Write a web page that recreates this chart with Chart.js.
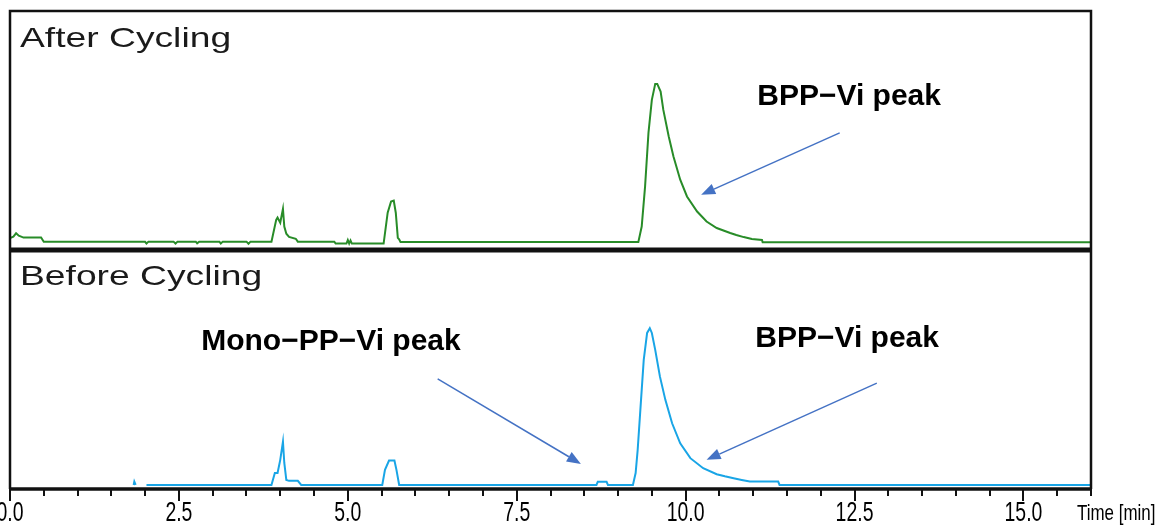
<!DOCTYPE html>
<html>
<head>
<meta charset="utf-8">
<title>HPLC chromatograms before and after cycling</title>
<script src="https://cdn.jsdelivr.net/npm/chart.js@4.4.1/dist/chart.umd.min.js"></script>
<style>
  html, body { margin: 0; padding: 0; background: #fff; }
  #wrap { position: relative; width: 1159px; height: 527px; }
</style>
</head>
<body>
<div id="wrap"><canvas id="chromChart"></canvas></div>
<script>
// retention time [min] / detector signal, after cycling (green trace)
const afterTime = [
  0.00, 0.05, 0.09, 0.13, 0.20, 0.46, 0.50, 2.00, 2.02, 2.05, 2.42, 2.45, 2.48,
  2.75, 2.77, 2.80, 3.10, 3.12, 3.15, 3.50, 3.53, 3.56, 3.87, 3.94, 3.96, 4.00,
  4.04, 4.06, 4.09, 4.13, 4.23, 4.26, 4.80, 4.82, 4.98, 5.00, 5.02, 5.04, 5.06,
  5.53, 5.59, 5.64, 5.68, 5.71, 5.74, 5.76, 5.78, 9.30, 9.35, 9.40, 9.45, 9.50,
  9.55, 9.58, 9.63, 9.67, 9.75, 9.82, 9.92, 10.02, 10.17, 10.31, 10.46, 10.66,
  10.75, 10.86, 10.98, 11.13, 11.14, 16.00
]
const afterSignal = [
  2.0, 2.6, 4.0, 3.0, 2.2, 2.2, 0.4, 0.4, -0.3, 0.5, 0.5, -0.3, 0.5,
  0.5, -0.2, 0.5, 0.5, -0.3, 0.5, 0.5, -0.4, 0.5, 0.5, 9.6, 10.6, 8.4,
  14.2, 6.8, 3.8, 2.5, 1.7, 0.5, 0.5, -0.3, -0.3, 1.2, -0.3, 1.0, -0.3,
  -0.3, 12.6, 17.3, 17.7, 12.6, 2.1, 1.5, 0.3, 0.3, 6.8, 23.6, 46.0, 59.8,
  66.5, 66.5, 63.3, 55.6, 44.5, 36.1, 26.4, 19.4, 13.1, 8.9, 6.2, 4.1,
  3.3, 2.4, 1.6, 1.2, 0.2, 0.2
]

// before cycling (blue trace); null leaves a gap in the line
const beforeTime = [
  1.83, 1.84, 1.86, 1.87, 2.02, 3.87, 3.92, 3.96, 4.00, 4.04, 4.06, 4.09, 4.13,
  4.26, 4.31, 5.51, 5.55, 5.61, 5.69, 5.72, 5.76, 8.68, 8.70, 8.83, 8.85, 9.22,
  9.26, 9.29, 9.33, 9.38, 9.43, 9.47, 9.50, 9.55, 9.62, 9.70, 9.80, 9.92, 10.07,
  10.26, 10.46, 10.58, 10.71, 10.83, 10.95, 11.37, 11.39, 16.00
]
const beforeSignal = [
  0, 1.4, 0, null, 0, 0, 5.0, 5.0, 10.5, 18.1, 9.2, 2.1, 1.7,
  1.7, 0, 0, 6.3, 10.2, 10.2, 6.3, 0, 0, 1.3, 1.3, 0, 0,
  5.0, 14.6, 31.4, 52.3, 63.6, 65.6, 63.6, 56.5, 45.3, 35.6, 25.8, 17.4, 11.2,
  7.0, 4.5, 3.6, 2.8, 2.1, 1.4, 1.4, 0, 0
]

const timeTicks = [0, 2.5, 5, 7.5, 10, 12.5, 15]
const panelTitles = ['After Cycling', 'Before Cycling']

// peak labels and arrows, placed in (time, signal) of their panel
const peakNotes = [
  { axis: 'yTop', text: 'BPP\u2212Vi peak', t: 11.06, v: 57.7 },
  { axis: 'yBottom', text: 'Mono\u2212PP\u2212Vi peak', t: 2.83, v: 56.5 },
  { axis: 'yBottom', text: 'BPP\u2212Vi peak', t: 11.03, v: 57.7 }
]
const peakArrows = [
  { axis: 'yTop', from: [12.28, 46.0], to: [10.23, 20.1] },
  { axis: 'yBottom', from: [6.33, 44.4], to: [8.45, 8.8] },
  { axis: 'yBottom', from: [12.83, 42.6], to: [10.31, 10.5] }
]

function zip(xs, ys) {
  return xs.map((x, i) => ({ x: x, y: ys[i] }))
}

const sansFont = '"Liberation Sans", Arial, sans-serif'

// text squeezed or stretched horizontally around its anchor
function drawScaledText(ctx, txt, x, y, sx, align) {
  ctx.save()
  ctx.translate(x, y)
  ctx.scale(sx, 1)
  ctx.textAlign = align
  ctx.fillText(txt, 0, 0)
  ctx.restore()
}

const framePlugin = {
  id: 'frames',
  afterDatasetsDraw(chart) {
    const ctx = chart.ctx
    const { left, right, top, bottom } = chart.chartArea
    const mid = Math.min(chart.scales.yTop.bottom, chart.scales.yBottom.bottom)
    const xs = chart.scales.x

    ctx.save()
    ctx.strokeStyle = '#111'

    // outline of both panels
    ctx.lineWidth = 2.5
    ctx.beginPath()
    ctx.moveTo(left, bottom)
    ctx.lineTo(left, top)
    ctx.lineTo(right, top)
    ctx.lineTo(right, bottom)
    ctx.stroke()

    // heavy separator between the panels
    ctx.lineWidth = 5
    ctx.beginPath()
    ctx.moveTo(left, mid)
    ctx.lineTo(right, mid)
    ctx.stroke()

    // time axis with minor ticks every 0.5 min
    ctx.lineWidth = 3.5
    ctx.beginPath()
    ctx.moveTo(left - 1, bottom)
    ctx.lineTo(right + 1, bottom)
    ctx.stroke()
    ctx.lineWidth = 2
    ctx.beginPath()
    for (let t = 0; t <= 16; t += 0.5) {
      const px = Math.round(xs.getPixelForValue(t))
      const major = timeTicks.includes(t)
      ctx.moveTo(px, bottom)
      ctx.lineTo(px, bottom + (major ? 12 : 7))
    }
    ctx.stroke()

    // tick labels and unit, in a condensed face
    ctx.fillStyle = '#000'
    ctx.textBaseline = 'middle'
    ctx.font = '27px ' + sansFont
    timeTicks.forEach(t => {
      drawScaledText(ctx, t.toFixed(1), xs.getPixelForValue(t), bottom + 25, 0.72, 'center')
    })
    ctx.font = '22px ' + sansFont
    drawScaledText(ctx, 'Time [min]', right - 14, bottom + 25, 0.77, 'left')

    // panel titles (stretched, like the instrument software)
    ctx.fillStyle = '#1a1a1a'
    ctx.font = '28px ' + sansFont
    ctx.textBaseline = 'alphabetic'
    const titleY = [top + 36, mid + 35]
    panelTitles.forEach((txt, i) => {
      drawScaledText(ctx, txt, left + 10, titleY[i], 1.33, 'left')
    })

    // arrows
    ctx.strokeStyle = '#4472c4'
    ctx.fillStyle = '#4472c4'
    ctx.lineWidth = 1.5
    peakArrows.forEach(a => {
      const ys = chart.scales[a.axis]
      const x0 = xs.getPixelForValue(a.from[0]), y0 = ys.getPixelForValue(a.from[1])
      const x1 = xs.getPixelForValue(a.to[0]), y1 = ys.getPixelForValue(a.to[1])
      const ang = Math.atan2(y1 - y0, x1 - x0)
      const len = 14, half = 5.5
      const bx = x1 - len * Math.cos(ang), by = y1 - len * Math.sin(ang)
      ctx.beginPath()
      ctx.moveTo(x0, y0)
      ctx.lineTo(bx, by)
      ctx.stroke()
      ctx.beginPath()
      ctx.moveTo(x1, y1)
      ctx.lineTo(bx + half * Math.sin(ang), by - half * Math.cos(ang))
      ctx.lineTo(bx - half * Math.sin(ang), by + half * Math.cos(ang))
      ctx.closePath()
      ctx.fill()
    })

    // peak labels
    ctx.fillStyle = '#000'
    ctx.textAlign = 'left'
    ctx.font = 'bold 30px ' + sansFont
    peakNotes.forEach(n => {
      ctx.fillText(n.text, xs.getPixelForValue(n.t), chart.scales[n.axis].getPixelForValue(n.v))
    })
    ctx.restore()
  }
}

new Chart(document.getElementById('chromChart'), {
  type: 'line',
  data: {
    datasets: [
      {
        label: 'After Cycling',
        data: zip(afterTime, afterSignal),
        yAxisID: 'yTop',
        borderColor: 'rgb(40, 140, 40)',
        borderWidth: 2,
        pointRadius: 0,
        tension: 0,
        fill: false
      },
      {
        label: 'Before Cycling',
        data: zip(beforeTime, beforeSignal),
        yAxisID: 'yBottom',
        borderColor: 'rgb(25, 165, 230)',
        borderWidth: 2,
        pointRadius: 0,
        tension: 0,
        spanGaps: false,
        fill: false
      }
    ]
  },
  options: {
    responsive: true,
    maintainAspectRatio: false,
    animation: false,
    events: [],
    layout: { padding: { left: 10, right: 68, top: 11, bottom: 0 } },
    plugins: {
      legend: { display: false },
      tooltip: { enabled: false }
    },
    scales: {
      x: {
        type: 'linear',
        position: 'bottom',
        min: 0,
        max: 16,
        grid: { display: false, drawTicks: false },
        border: { display: false },
        ticks: { display: false },
        afterFit: scale => {
          scale.paddingLeft = 0
          scale.paddingRight = 0
          scale.height = 38
        }
      },
      // stacked panels: the axis listed first ends up lowest
      yBottom: {
        type: 'linear',
        position: 'left',
        stack: 'panels',
        stackWeight: 1,
        min: -1.7,
        max: 98.3,
        display: false
      },
      yTop: {
        type: 'linear',
        position: 'left',
        stack: 'panels',
        stackWeight: 1,
        min: -3,
        max: 97,
        display: false
      }
    }
  },
  plugins: [framePlugin]
})
</script>
</body>
</html>
